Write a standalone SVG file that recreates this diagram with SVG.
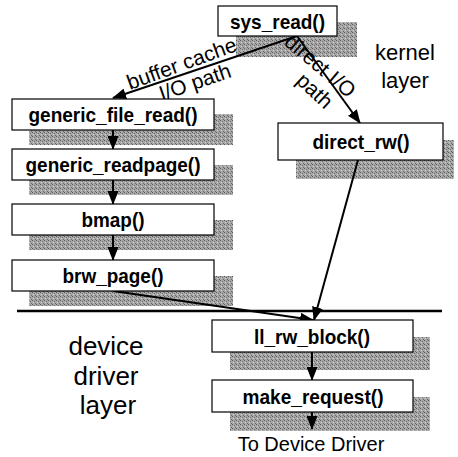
<svg xmlns="http://www.w3.org/2000/svg" width="458" height="457" viewBox="0 0 458 457">
<defs>
<pattern id="dith" width="4" height="4" patternUnits="userSpaceOnUse">
<rect width="4" height="4" fill="#a8a8a8"/>
<rect x="0" y="0" width="1" height="1" fill="#5a5a5a"/>
<rect x="2" y="1" width="1" height="1" fill="#6e6e6e"/>
<rect x="1" y="2" width="1" height="1" fill="#cccccc"/>
<rect x="3" y="3" width="1" height="1" fill="#666"/>
</pattern>
<marker id="ah" markerUnits="userSpaceOnUse" markerWidth="14" markerHeight="11" refX="13" refY="5.5" orient="auto">
<path d="M0,0 L14,5.5 L0,11 Z" fill="#000"/>
</marker>
</defs>
<style>
.box{fill:#fff;stroke:#000;stroke-width:1.2}
.sh{fill:url(#dith)}
.t{font-family:"Liberation Sans",Arial,sans-serif;font-weight:bold;font-size:21px;text-anchor:middle;fill:#000}
.lbl{font-family:"Liberation Sans",Arial,sans-serif;font-size:21px;fill:#000}
.big{font-family:"Liberation Sans",Arial,sans-serif;text-anchor:middle;fill:#000}
.c{stroke:#000;stroke-width:2;fill:none}
</style>
<g id="shadows">
<rect class="sh" x="236" y="22" width="121" height="35"/>
<rect class="sh" x="29" y="114" width="204" height="31"/>
<rect class="sh" x="29" y="165" width="204" height="30"/>
<rect class="sh" x="29" y="220" width="204" height="30"/>
<rect class="sh" x="29" y="276" width="204" height="30"/>
<rect class="sh" x="296" y="140" width="158" height="39"/>
<rect class="sh" x="230" y="337" width="200" height="33"/>
<rect class="sh" x="230" y="397" width="200" height="34"/>
</g>
<g id="connectors">
<line class="c" x1="297" y1="36" x2="113" y2="98" marker-end="url(#ah)"/>
<line class="c" x1="297" y1="36" x2="360" y2="123" marker-end="url(#ah)"/>
<line class="c" x1="113" y1="130" x2="113" y2="149" marker-end="url(#ah)"/>
<line class="c" x1="113" y1="180" x2="113" y2="204" marker-end="url(#ah)"/>
<line class="c" x1="113" y1="235" x2="113" y2="260" marker-end="url(#ah)"/>
<line class="c" x1="113" y1="291" x2="313" y2="320" marker-end="url(#ah)"/>
<line class="c" x1="358" y1="160" x2="314" y2="320" marker-end="url(#ah)"/>
<line class="c" x1="312" y1="352" x2="312" y2="380" marker-end="url(#ah)"/>
<line class="c" x1="312" y1="412" x2="312" y2="429" marker-end="url(#ah)"/>
<line x1="17" y1="311" x2="442" y2="311" stroke="#000" stroke-width="2.5"/>
</g>
<g id="labels">
<text class="lbl" transform="translate(130,90) rotate(-20)">buffer cache</text>
<text class="lbl" transform="translate(162,101) rotate(-19)">I/O path</text>
<text class="lbl" transform="translate(283,44) rotate(40)">direct I/O</text>
<text class="lbl" transform="translate(295,82) rotate(43)">path</text>
</g>
<g id="sys_read"><rect class="box" x="218" y="6" width="119" height="30"/><text class="t" x="277.5" y="28.5" textLength="95" lengthAdjust="spacingAndGlyphs">sys_read()</text></g>
<g id="generic_file_read"><rect class="box" x="12" y="99" width="202" height="31"/><text class="t" x="113" y="122" textLength="169" lengthAdjust="spacingAndGlyphs">generic_file_read()</text></g>
<g id="generic_readpage"><rect class="box" x="12" y="149" width="202" height="31"/><text class="t" x="113" y="172" textLength="175" lengthAdjust="spacingAndGlyphs">generic_readpage()</text></g>
<g id="bmap"><rect class="box" x="12" y="204" width="202" height="31"/><text class="t" x="113" y="227" textLength="63" lengthAdjust="spacingAndGlyphs">bmap()</text></g>
<g id="brw_page"><rect class="box" x="12" y="260" width="202" height="31"/><text class="t" x="113" y="283" textLength="101" lengthAdjust="spacingAndGlyphs">brw_page()</text></g>
<g id="direct_rw"><rect class="box" x="278" y="123" width="165" height="37"/><text class="t" x="361" y="149" textLength="97" lengthAdjust="spacingAndGlyphs">direct_rw()</text></g>
<g id="ll_rw_block"><rect class="box" x="212" y="320" width="201" height="32"/><text class="t" x="312" y="343.5" textLength="116" lengthAdjust="spacingAndGlyphs">ll_rw_block()</text></g>
<g id="make_request"><rect class="box" x="212" y="380" width="201" height="32"/><text class="t" x="313" y="403.5" textLength="141" lengthAdjust="spacingAndGlyphs">make_request()</text></g>
<g id="layers">
<text class="big" x="405" y="60" style="font-size:22px">kernel</text>
<text class="big" x="405" y="88" style="font-size:22px">layer</text>
<text class="big" x="106" y="355" style="font-size:26px">device</text>
<text class="big" x="106" y="385" style="font-size:26px">driver</text>
<text class="big" x="108" y="414" style="font-size:26px">layer</text>
<text class="big" x="311" y="451" style="font-size:20px">To Device Driver</text>
</g>
</svg>
